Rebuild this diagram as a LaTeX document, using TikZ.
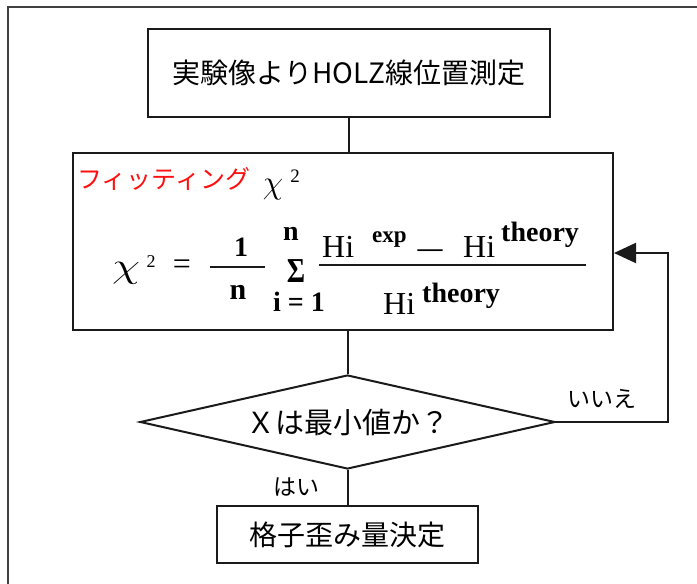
\documentclass[tikz,border=0pt]{standalone}
\usepackage{fontspec}
\usepackage{graphicx}
\usetikzlibrary{shapes.geometric,arrows.meta}
\newfontfamily\jp{Noto Sans CJK JP}
\newfontfamily\tms{Liberation Serif}
\newcommand{\fsz}[1]{\fontsize{#1pt}{#1pt}\selectfont}
\definecolor{frame}{HTML}{404040}
\definecolor{ink}{HTML}{1A1A1A}
\definecolor{redtxt}{HTML}{FF1010}
\begin{document}
\begin{tikzpicture}[x=1pt,y=-1pt,
  flowbox/.style={draw=ink, line width=2pt, inner sep=0pt, font=\jp\fsz{28}},
  flowdia/.style={draw=ink, line width=2pt, diamond, aspect=4.41, inner sep=0pt, font=\jp\fsz{29}},
  lbl/.style={inner sep=0pt, font=\jp\fsz{23}},
  conn/.style={draw=ink, line width=2pt},
  fm/.style={inner sep=0pt, anchor=base west, font=\tms\fsz{32}},
  fmb/.style={inner sep=0pt, anchor=base west, font=\tms\bfseries\fsz{#1}},
  fmc/.style={inner sep=0pt, font=\tms\bfseries\fsz{#1}},
  bar/.style={draw=ink, line width=1.8pt}
]
\fill[white] (0,0) rectangle (697,584);
\useasboundingbox (0,0) rectangle (697,584);
% outer frame (top and left edges visible)
\draw[frame, line width=2.5pt] (8,598) -- (8,7) -- (710,7);

% boxes
\node[flowbox, minimum width=402pt, minimum height=88pt] (b1) at (349,73) {実験像よりHOLZ線位置測定};
\node[draw=ink, line width=2pt, minimum width=540pt, minimum height=177pt, inner sep=0pt] (b2) at (343,241.5) {};
\node[flowdia, minimum width=415pt, minimum height=94pt] (d) at (347.5,422) {Ｘは最小値か？};
\node[flowbox, minimum width=261pt, minimum height=57pt] (b3) at (347.5,534.5) {格子歪み量決定};

% box 2 contents
\node[inner sep=0pt, anchor=west, text=redtxt, font=\jp\fsz{25}] (fit) at (77,179) {フィッティング};
\node[inner sep=0pt] (chiA) at (273,190) {\fsz{20}\scalebox{1.6}[1.6]{$\chi$}};
\node[inner sep=0pt, font=\tms\fsz{19}] (chiA2) at (295,176) {2};

\node[inner sep=0pt] (chiB) at (126,273) {\fsz{20}\scalebox{2.2}[1.7]{$\chi$}};
\node[inner sep=0pt, font=\tms\fsz{18}] (chiB2) at (151,262) {2};
\node[inner sep=0pt, font=\tms\fsz{32}] (eq) at (182,267) {=};
\node[fmc=28] (one) at (241,247.5) {1};
\node[fmc=30] (nn) at (238,292.5) {n};
\draw[bar] (210,267) coordinate (f1l) -- (265,267) coordinate (f1r);
\node[inner sep=0pt, font=\tms\bfseries\fsz{35}] (sig) at (296,271.5) {\scalebox{0.8}[1]{Σ}};
\node[fmc=28] (sigt) at (291,234) {n};
\node[fmc=28] (sigb) at (299,301.5) {i = 1};

\node[fm] (h1) at (322,257) {Hi};
\node[fmb=23] (e1) at (372,242) {exp};
\node[inner sep=0pt, font=\tms\bfseries\fsz{25}] (dash) at (430,253) {—};
\node[fm] (h2) at (463,257) {Hi};
\node[fmb=28] (t1) at (501,241) {theory};
\draw[bar] (319,265) coordinate (f2l) -- (586,265) coordinate (f2r);
\node[fm] (h3) at (383,314) {Hi};
\node[fmb=28] (t2) at (422,302) {theory};

% connectors
\draw[conn] (b1.south) -- (b1.south |- b2.north);
\draw[conn] (d.north |- b2.south) -- (d.north);
\draw[conn] (d.south) -- (b3.north);
\coordinate (r1) at (668,422);
\coordinate (r2) at (668,253);
\draw[conn, -{Triangle[length=22pt,width=20pt]}] (d.east) -- (r1) -- (r2) -- (b2.east |- r2);

% labels
\node[lbl] (no) at (602,399) {いいえ};
\node[lbl] (yes) at (296,487) {はい};
\end{tikzpicture}
\end{document}
